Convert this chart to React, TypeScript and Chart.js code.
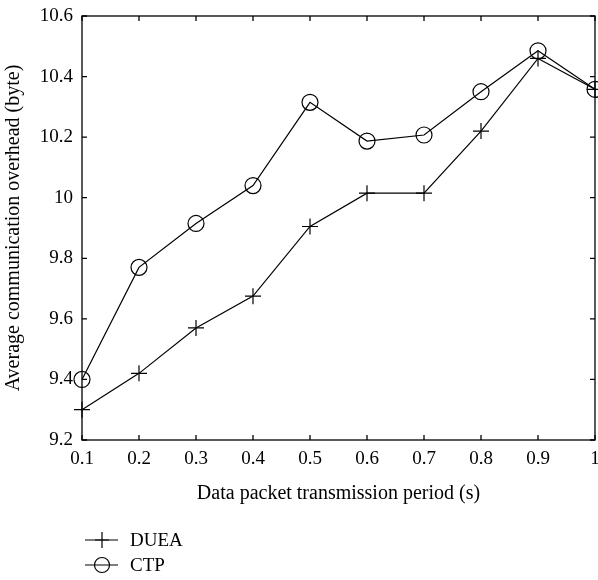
import React, { useEffect, useRef } from "react";
import { Chart, registerables } from "chart.js";

Chart.register(...registerables);

const periods = [0.1, 0.2, 0.3, 0.4, 0.5, 0.6, 0.7, 0.8, 0.9, 1.0];
const dueaValues = [9.3, 9.42, 9.57, 9.675, 9.905, 10.015, 10.015, 10.22, 10.46, 10.358];
const ctpValues = [9.4, 9.77, 9.915, 10.04, 10.315, 10.187, 10.207, 10.35, 10.485, 10.358];
const seriesNames = ["DUEA", "CTP"];
const xTitle = "Data packet transmission period (s)";
const yTitle = "Average communication overhead (byte)";

const FONT = "'Liberation Serif', 'DejaVu Serif', serif";

const fmt = (v: number) => String(Number(Number(v).toFixed(1)));

const frameAndLegend = {
  id: "frameAndLegend",
  afterDraw(chart: any) {
    const ctx = chart.ctx;
    const { left, right, top, bottom } = chart.chartArea;
    const xs = chart.scales.x;
    const ys = chart.scales.y;
    ctx.save();
    ctx.strokeStyle = "#000";
    ctx.lineWidth = 1.3;
    ctx.strokeRect(left, top, right - left, bottom - top);
    const tl = 5;
    ctx.beginPath();
    xs.ticks.forEach((t: any) => {
      const px = xs.getPixelForValue(t.value);
      ctx.moveTo(px, bottom);
      ctx.lineTo(px, bottom - tl);
      ctx.moveTo(px, top);
      ctx.lineTo(px, top + tl);
    });
    ys.ticks.forEach((t: any) => {
      const py = ys.getPixelForValue(t.value);
      ctx.moveTo(left, py);
      ctx.lineTo(left + tl, py);
      ctx.moveTo(right, py);
      ctx.lineTo(right - tl, py);
    });
    ctx.stroke();

    // legend
    const lx0 = 85;
    const lx1 = 118;
    const ly0 = 540;
    const gap = 25;
    chart.data.datasets.forEach((ds: any, i: number) => {
      const y = ly0 + i * gap;
      ctx.lineWidth = 1.2;
      ctx.strokeStyle = "#000";
      ctx.beginPath();
      ctx.moveTo(lx0, y);
      ctx.lineTo(lx1, y);
      ctx.stroke();
      const cx = 102;
      ctx.beginPath();
      if (ds.pointStyle === "cross") {
        ctx.moveTo(cx - 7, y);
        ctx.lineTo(cx + 7, y);
        ctx.moveTo(cx, y - 8);
        ctx.lineTo(cx, y + 8);
      } else {
        ctx.arc(cx, y, 7.5, 0, Math.PI * 2);
      }
      ctx.stroke();
      ctx.fillStyle = "#000";
      ctx.font = `19px ${FONT}`;
      ctx.textAlign = "left";
      ctx.textBaseline = "middle";
      ctx.fillText(ds.label, 130, y + 1);
    });
    ctx.restore();
  },
};

export default function App() {
  const ref = useRef<HTMLCanvasElement | null>(null);

  useEffect(() => {
    if (!ref.current) return;
    const chart = new Chart(ref.current, {
      type: "line",
      data: {
        datasets: [
          {
            label: seriesNames[0],
            data: periods.map((p, i) => ({ x: p, y: dueaValues[i] })),
            borderColor: "#000",
            borderWidth: 1.2,
            pointStyle: "cross",
            pointRadius: 8,
            pointBorderWidth: 1.2,
            pointBorderColor: "#000",
            pointBackgroundColor: "transparent",
            tension: 0,
            clip: false as any,
          },
          {
            label: seriesNames[1],
            data: periods.map((p, i) => ({ x: p, y: ctpValues[i] })),
            borderColor: "#000",
            borderWidth: 1.2,
            pointStyle: "circle",
            pointRadius: 8,
            pointBorderWidth: 1.2,
            pointBorderColor: "#000",
            pointBackgroundColor: "transparent",
            tension: 0,
            clip: false as any,
          },
        ],
      },
      options: {
        animation: false,
        responsive: false,
        events: [],
        layout: { autoPadding: false, padding: { top: 16, right: 3, left: 0, bottom: 70 } },
        plugins: {
          legend: { display: false },
          tooltip: { enabled: false },
        },
        scales: {
          x: {
            type: "linear",
            min: 0.1,
            max: 1,
            border: { display: false },
            grid: { display: false, drawTicks: false },
            ticks: {
              stepSize: 0.1,
              color: "#000",
              font: { family: FONT, size: 19 },
              padding: 8,
              maxRotation: 0,
              autoSkip: false,
              callback: (v: any) => fmt(v),
            },
            title: {
              display: true,
              text: xTitle,
              color: "#000",
              font: { family: FONT, size: 20 },
              padding: { top: 6 },
            },
            afterFit: (s: any) => {
              s.height = 70;
              s.paddingLeft = 0;
              s.paddingRight = 0;
            },
          },
          y: {
            type: "linear",
            min: 9.2,
            max: 10.6,
            border: { display: false },
            grid: { display: false, drawTicks: false },
            ticks: {
              stepSize: 0.2,
              color: "#000",
              font: { family: FONT, size: 19 },
              padding: 9,
              callback: (v: any) => fmt(v),
            },
            title: {
              display: true,
              text: yTitle,
              color: "#000",
              font: { family: FONT, size: 20 },
              padding: { top: 2, bottom: 0 },
            },
            afterFit: (s: any) => {
              s.width = 82;
              s.paddingTop = 0;
              s.paddingBottom = 0;
            },
          },
        },
      },
      plugins: [frameAndLegend],
    });
    return () => chart.destroy();
  }, []);

  return (
    <div style={{ position: "fixed", left: 0, top: 0, width: 598, height: 580, background: "#fff" }}>
      <canvas ref={ref} width={598} height={580} style={{ width: 598, height: 580 }} />
    </div>
  );
}
